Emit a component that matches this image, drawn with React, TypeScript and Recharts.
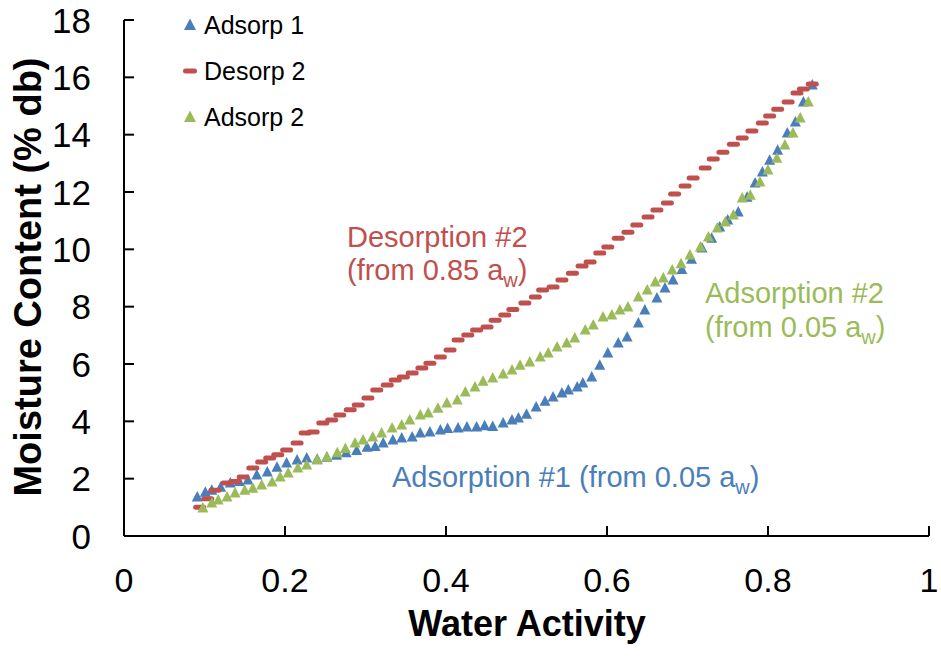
import React from 'react';
import { ScatterChart, Scatter, XAxis, YAxis, Legend } from 'recharts';

const BLUE = '#4A7EBB';
const RED = '#C0504D';
const GREEN = '#9BBB59';
const FONT = "'Liberation Sans', Arial, sans-serif";

// water activity / moisture content (% db)
const adsorp1Aw = [
  0.091, 0.101, 0.109, 0.12, 0.132, 0.143, 0.154, 0.165, 0.178, 0.19, 0.202, 0.215, 0.227, 0.24,
  0.252, 0.264, 0.276, 0.289, 0.302, 0.312, 0.322, 0.334, 0.345, 0.358, 0.368, 0.38, 0.393, 0.402,
  0.415, 0.426, 0.438, 0.448, 0.458, 0.471, 0.482, 0.49, 0.5, 0.512, 0.523, 0.533, 0.544, 0.552,
  0.563, 0.57, 0.581, 0.591, 0.601, 0.614, 0.625, 0.639, 0.647, 0.662, 0.672, 0.682, 0.693, 0.705,
  0.718, 0.73, 0.74, 0.75, 0.763, 0.774, 0.784, 0.793, 0.802, 0.812, 0.824, 0.834, 0.844, 0.855,
];
const adsorp1Mc = [
  1.36, 1.53, 1.6, 1.7, 1.85, 1.9, 1.95, 2.13, 2.23, 2.4, 2.55, 2.65, 2.72, 2.68,
  2.75, 2.82, 2.9, 2.98, 3.1, 3.12, 3.24, 3.35, 3.42, 3.45, 3.59, 3.63, 3.7, 3.75,
  3.77, 3.8, 3.8, 3.85, 3.82, 3.94, 4.05, 4.12, 4.25, 4.5, 4.7, 4.85, 4.99, 5.09,
  5.2, 5.34, 5.55, 5.96, 6.38, 6.73, 6.94, 7.43, 7.88, 8.3, 8.65, 8.93, 9.3, 9.65,
  10.05, 10.39, 10.78, 11.02, 11.3, 11.82, 12.31, 12.7, 13.11, 13.46, 14.06, 14.44, 15.14, 15.73,
];

const desorp2Aw = [
  0.094, 0.104, 0.113, 0.128, 0.138, 0.148, 0.16, 0.171, 0.181, 0.191, 0.202, 0.215, 0.225, 0.235,
  0.247, 0.258, 0.268, 0.281, 0.291, 0.303, 0.314, 0.327, 0.337, 0.347, 0.358, 0.37, 0.38, 0.393,
  0.405, 0.415, 0.427, 0.438, 0.451, 0.461, 0.473, 0.483, 0.498, 0.511, 0.52, 0.533, 0.544, 0.557,
  0.569, 0.579, 0.591, 0.601, 0.614, 0.626, 0.637, 0.651, 0.662, 0.675, 0.684, 0.697, 0.707, 0.722,
  0.732, 0.744, 0.757, 0.768, 0.78, 0.793, 0.802, 0.812, 0.825, 0.836, 0.844, 0.855,
];
const desorp2Mc = [
  1.0, 1.3, 1.6, 1.85, 1.9, 2.06, 2.37, 2.58, 2.72, 2.83, 3.0, 3.24, 3.59, 3.63,
  3.94, 4.05, 4.22, 4.4, 4.57, 4.81, 5.09, 5.27, 5.44, 5.55, 5.69, 5.86, 6.03, 6.24,
  6.49, 6.84, 7.01, 7.19, 7.29, 7.53, 7.71, 7.9, 8.13, 8.34, 8.58, 8.69, 8.93, 9.17,
  9.42, 9.56, 9.87, 10.08, 10.39, 10.6, 10.85, 11.13, 11.37, 11.62, 11.93, 12.21, 12.49, 12.84,
  13.15, 13.39, 13.67, 13.88, 14.13, 14.41, 14.65, 14.89, 15.14, 15.45, 15.59, 15.77,
];

const adsorp2Aw = [
  0.098, 0.109, 0.117, 0.128, 0.138, 0.15, 0.16, 0.171, 0.184, 0.194, 0.204, 0.216, 0.227, 0.24,
  0.252, 0.265, 0.275, 0.287, 0.297, 0.309, 0.32, 0.333, 0.345, 0.355, 0.368, 0.378, 0.39, 0.401,
  0.414, 0.424, 0.436, 0.446, 0.458, 0.471, 0.482, 0.492, 0.504, 0.517, 0.527, 0.538, 0.55, 0.56,
  0.573, 0.583, 0.595, 0.606, 0.616, 0.626, 0.639, 0.65, 0.66, 0.67, 0.681, 0.692, 0.703, 0.716,
  0.726, 0.737, 0.747, 0.757, 0.768, 0.778, 0.79, 0.8, 0.811, 0.821, 0.831, 0.84, 0.85,
];
const adsorp2Mc = [
  0.98, 1.15, 1.26, 1.36, 1.5, 1.6, 1.67, 1.78, 1.88, 2.06, 2.2, 2.37, 2.48, 2.65,
  2.76, 2.9, 3.05, 3.24, 3.35, 3.45, 3.59, 3.77, 3.87, 4.05, 4.22, 4.29, 4.46, 4.64,
  4.74, 5.02, 5.2, 5.4, 5.51, 5.65, 5.79, 5.96, 6.07, 6.24, 6.38, 6.59, 6.73, 6.91,
  7.19, 7.36, 7.64, 7.71, 7.88, 7.99, 8.34, 8.58, 8.86, 9.0, 9.28, 9.5, 9.8, 10.08,
  10.43, 10.74, 10.95, 11.2, 11.79, 11.89, 12.35, 12.77, 13.18, 13.64, 14.06, 14.58, 15.14,
];

const xTicks = [0, 0.2, 0.4, 0.6, 0.8, 1];
const yTicks = [0, 2, 4, 6, 8, 10, 12, 14, 16, 18];

const zip = (xs: number[], ys: number[]) => xs.map((x, i) => ({ x, y: ys[i] }));

const triangle = (color: string) => (props: any) => {
  const { cx, cy } = props;
  return <polygon points={`${cx},${cy - 6} ${cx + 5.5},${cy + 4.5} ${cx - 5.5},${cy + 4.5}`} fill={color} />;
};

const dash = (color: string) => (props: any) => {
  const { cx, cy } = props;
  return <rect x={cx - 6.5} y={cy - 2.5} width={13} height={5} rx={2.5} fill={color} />;
};

const series = [
  { name: 'Adsorp 1', color: BLUE, kind: 'triangle', data: zip(adsorp1Aw, adsorp1Mc) },
  { name: 'Desorp 2', color: RED, kind: 'dash', data: zip(desorp2Aw, desorp2Mc) },
  { name: 'Adsorp 2', color: GREEN, kind: 'triangle', data: zip(adsorp2Aw, adsorp2Mc) },
];

const XTick = (props: any) => {
  const { x, y, payload } = props;
  return (
    <g>
      <line x1={x} y1={y} x2={x} y2={y - 10} stroke="#000" strokeWidth={2} />
      <text x={x} y={y + 56} textAnchor="middle" fontSize={34} fontFamily={FONT} fill="#000">
        {payload.value}
      </text>
    </g>
  );
};

const YTick = (props: any) => {
  const { x, y, payload } = props;
  return (
    <g>
      <line x1={x} y1={y} x2={x + 10} y2={y} stroke="#000" strokeWidth={2} />
      <text x={x - 33} y={y} textAnchor="end" dominantBaseline="central" fontSize={35} fontFamily={FONT} fill="#000">
        {payload.value}
      </text>
    </g>
  );
};

const LegendBox = () => (
  <div style={{ fontFamily: FONT, fontSize: 25, color: '#000' }}>
    {series.map((s) => (
      <div key={s.name} style={{ display: 'flex', alignItems: 'center', height: 46 }}>
        <svg width={16} height={16} style={{ marginRight: 6 }}>
          {s.kind === 'triangle' ? (
            <polygon points="8,1.5 14,13 2,13" fill={s.color} />
          ) : (
            <rect x={1} y={5.5} width={14} height={5} rx={2.5} fill={s.color} />
          )}
        </svg>
        <span>{s.name}</span>
      </div>
    ))}
  </div>
);

const Sub = ({ children }: { children: string }) => (
  <>
    <tspan fontSize={20} dy={7}>{children}</tspan>
    <tspan dy={-7}>)</tspan>
  </>
);

const App = () => {
  return (
    <div style={{ position: 'absolute', left: 0, top: 0, width: 941, height: 661, background: '#fff' }}>
      <ScatterChart width={941} height={661} margin={{ top: 20, right: 12, bottom: 85, left: 84 }}>
        <XAxis
          type="number"
          dataKey="x"
          domain={[0, 1]}
          ticks={xTicks}
          height={40}
          tickSize={0}
          tickMargin={0}
          tickLine={false}
          axisLine={{ stroke: '#000', strokeWidth: 2 }}
          tick={<XTick />}
          interval={0}
        />
        <YAxis
          type="number"
          dataKey="y"
          domain={[0, 18]}
          ticks={yTicks}
          width={40}
          tickSize={0}
          tickMargin={0}
          tickLine={false}
          axisLine={{ stroke: '#000', strokeWidth: 2 }}
          tick={<YTick />}
          interval={0}
        />
        <Legend
          layout="vertical"
          align="center"
          verticalAlign="middle"
          content={<LegendBox />}
          wrapperStyle={{ left: 182, top: 2, width: 160 }}
        />
        {series.map((s) => (
          <Scatter
            key={s.name}
            name={s.name}
            data={s.data}
            fill={s.color}
            shape={s.kind === 'triangle' ? triangle(s.color) : dash(s.color)}
            isAnimationActive={false}
          />
        ))}
      </ScatterChart>
      <svg width={941} height={661} style={{ position: 'absolute', left: 0, top: 0, pointerEvents: 'none' }}>
        <g fontFamily={FONT}>
          <text transform="translate(41, 277) rotate(-90)" textAnchor="middle" fontSize={38} fontWeight="bold" fill="#000">
            Moisture Content (% db)
          </text>
          <text x={527} y={636} textAnchor="middle" fontSize={36} fontWeight="bold" fill="#000">
            Water Activity
          </text>
          <g fontSize={29} fill={RED}>
            <text x={347} y={247}>Desorption #2</text>
            <text x={347} y={280}>
              (from 0.85 a<Sub>w</Sub>
            </text>
          </g>
          <g fontSize={29} fill={GREEN}>
            <text x={705} y={303}>Adsorption #2</text>
            <text x={705} y={337}>
              (from 0.05 a<Sub>w</Sub>
            </text>
          </g>
          <g fontSize={29} fill={BLUE}>
            <text x={392} y={487}>
              Adsorption #1 (from 0.05 a<Sub>w</Sub>
            </text>
          </g>
        </g>
      </svg>
    </div>
  );
};

export default App;
